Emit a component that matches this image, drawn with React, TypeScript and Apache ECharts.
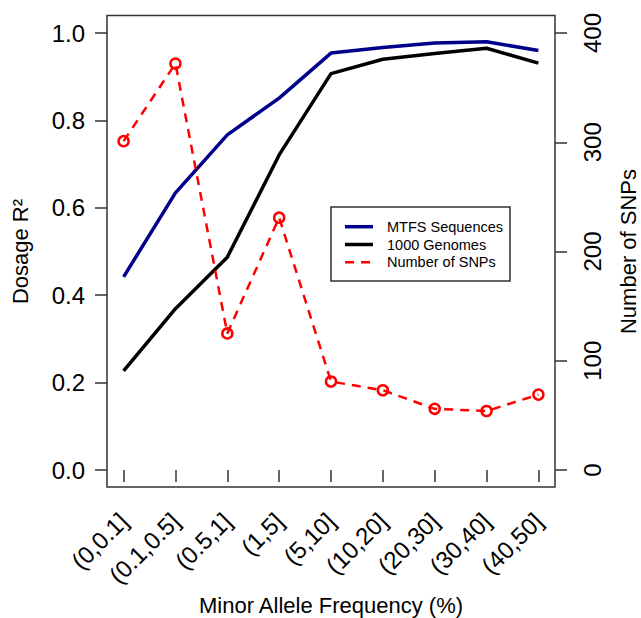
import React, { useEffect, useRef } from "react";
import * as echarts from "echarts";

const categories = ["(0,0.1]", "(0.1,0.5]", "(0.5,1]", "(1,5]", "(5,10]", "(10,20]", "(20,30]", "(30,40]", "(40,50]"];
const mtfsR2 = [0.442, 0.634, 0.767, 0.851, 0.954, 0.967, 0.977, 0.98, 0.96];
const genomesR2 = [0.227, 0.369, 0.487, 0.721, 0.907, 0.94, 0.953, 0.965, 0.931];
const snpCounts = [301, 372, 125, 231, 81, 73, 56, 54, 69];
const seriesNames = ["MTFS Sequences", "1000 Genomes", "Number of SNPs"];
const seriesColors = ["#00008B", "#000000", "#FF0000"];
const leftAxisTitle = "Dosage R²";
const rightAxisTitle = "Number of SNPs";
const xAxisTitle = "Minor Allele Frequency (%)";

const FONT = "'Liberation Sans', Arial, Helvetica, sans-serif";
const AXIS_COLOR = "#333333";

export default function App() {
  const ref = useRef<HTMLDivElement>(null);
  useEffect(() => {
    document.body.style.margin = "0";
    if (!ref.current) return;
    const chart = echarts.init(ref.current, null, { renderer: "svg" });
    const legendRows = [226.7, 244.5, 262.3];
    const legendChildren: any[] = [
      {
        type: "rect",
        shape: { x: 331, y: 207, width: 179, height: 74 },
        style: { fill: "#ffffff", stroke: AXIS_COLOR, lineWidth: 1.5 },
      },
    ];
    seriesNames.forEach((n, i) => {
      legendChildren.push({
        type: "line",
        shape: { x1: 345, y1: legendRows[i], x2: 373, y2: legendRows[i] },
        style: {
          stroke: seriesColors[i],
          lineWidth: i === 2 ? 2.5 : 3.5,
          lineDash: i === 2 ? [9, 7] : null,
        },
      });
      legendChildren.push({
        type: "text",
        x: 387,
        y: legendRows[i],
        style: {
          text: n,
          fill: "#000",
          font: `14.5px ${FONT}`,
          textAlign: "left",
          textVerticalAlign: "middle",
        },
      });
    });

    chart.setOption({
      animation: false,
      backgroundColor: "#ffffff",
      textStyle: { fontFamily: FONT, color: "#000" },
      grid: {
        left: 123.6,
        right: 102.6,
        top: 33,
        bottom: 148,
        containLabel: false,
        outerBoundsMode: "none",
      },
      xAxis: {
        type: "category",
        data: categories,
        boundaryGap: false,
        offset: 17,
        axisLine: { show: false },
        axisTick: { show: true, length: 12, lineStyle: { color: AXIS_COLOR, width: 1.5 } },
        axisLabel: {
          interval: 0,
          rotate: 45,
          margin: 30,
          fontSize: 24,
          color: "#000",
          fontFamily: FONT,
        },
        splitLine: { show: false },
        name: xAxisTitle,
        nameLocation: "middle",
        nameGap: 104,
        nameTextStyle: { fontSize: 22, color: "#000", fontFamily: FONT },
      },
      yAxis: [
        {
          type: "value",
          position: "left",
          min: 0,
          max: 1,
          interval: 0.2,
          offset: 16.6,
          axisLine: { show: false },
          axisTick: { show: true, length: 12, lineStyle: { color: AXIS_COLOR, width: 1.5 } },
          axisLabel: {
            margin: 22,
            fontSize: 24,
            color: "#000",
            fontFamily: FONT,
            formatter: (v: number) => v.toFixed(1),
          },
          splitLine: { show: false },
          name: leftAxisTitle,
          nameLocation: "middle",
          nameRotate: 90,
          nameGap: 76,
          nameTextStyle: { fontSize: 22, color: "#000", fontFamily: FONT },
        },
        {
          type: "value",
          position: "right",
          min: 0,
          max: 400,
          interval: 100,
          offset: 16.6,
          axisLine: { show: false },
          axisTick: { show: true, length: 12, lineStyle: { color: AXIS_COLOR, width: 1.5 } },
          axisLabel: {
            margin: 25,
            rotate: 90,
            fontSize: 24,
            color: "#000",
            fontFamily: FONT,
          },
          splitLine: { show: false },
          name: rightAxisTitle,
          nameLocation: "middle",
          nameRotate: 90,
          nameGap: 62,
          nameTextStyle: { fontSize: 22, color: "#000", fontFamily: FONT },
        },
      ],
      series: [
        {
          name: seriesNames[0],
          type: "line",
          data: mtfsR2,
          yAxisIndex: 0,
          symbol: "none",
          color: seriesColors[0],
          lineStyle: { color: seriesColors[0], width: 3.5 },
          z: 3,
        },
        {
          name: seriesNames[1],
          type: "line",
          data: genomesR2,
          yAxisIndex: 0,
          symbol: "none",
          color: seriesColors[1],
          lineStyle: { color: seriesColors[1], width: 3.5 },
          z: 3,
        },
        {
          name: seriesNames[2],
          type: "line",
          data: snpCounts,
          yAxisIndex: 1,
          symbol: "circle",
          symbolSize: 10,
          color: seriesColors[2],
          itemStyle: { color: "rgba(255,255,255,0)", borderColor: seriesColors[2], borderWidth: 2.5 },
          lineStyle: { color: seriesColors[2], width: 2.5, type: [9, 7] },
          z: 4,
        },
      ],
      graphic: [
        {
          type: "rect",
          silent: true,
          z: 10,
          shape: { x: 107, y: 15.5, width: 448, height: 471.5 },
          style: { fill: "none", stroke: AXIS_COLOR, lineWidth: 1.5 },
        },
        { type: "group", z: 20, children: legendChildren },
      ],
    });
    return () => chart.dispose();
  }, []);
  return <div ref={ref} style={{ width: 641, height: 618 }} />;
}
